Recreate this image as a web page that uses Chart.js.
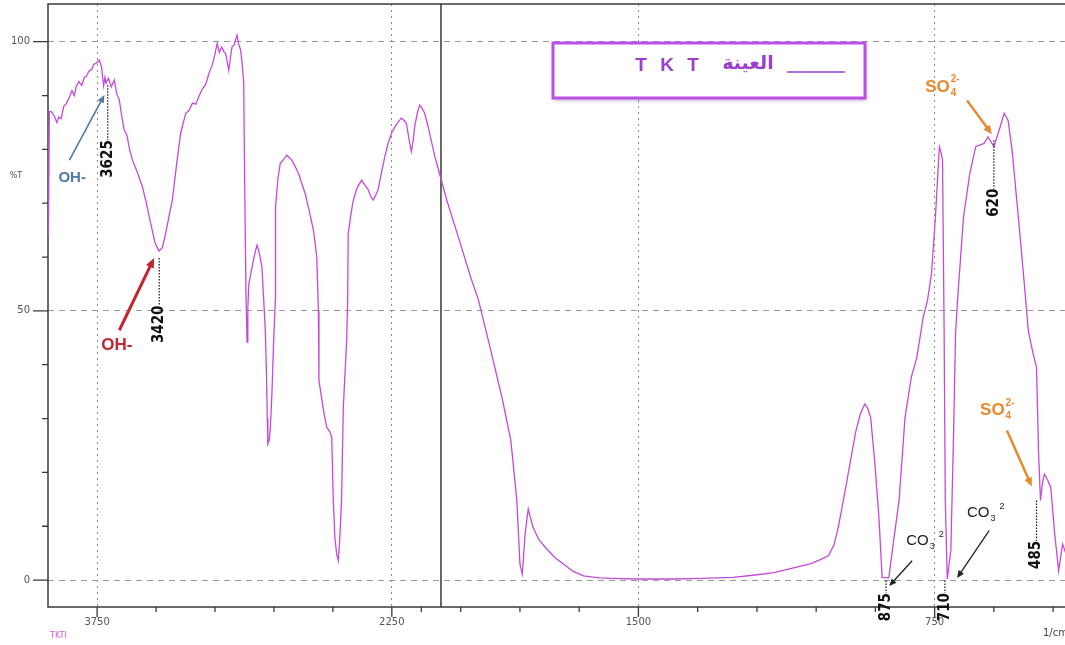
<!DOCTYPE html>
<html>
<head>
<meta charset="utf-8">
<script src="https://cdn.jsdelivr.net/npm/chart.js@4.4.1/dist/chart.umd.min.js"></script>
<style>
  html, body { margin: 0; padding: 0; background: #fff; overflow: hidden; }
  #wrap { position: relative; width: 1065px; height: 645px; }
</style>
</head>
<body>
<div id="wrap"><canvas id="irChart"></canvas></div>
<script>
// IR spectrum of sample TKT: wavenumber (1/cm) and %T
const wavenumbers = [
  3998, 3993, 3983, 3968, 3955, 3945, 3933, 3920, 3907, 3893, 3878, 3866, 3857, 3843, 3828, 3815,
  3806, 3792, 3778, 3767, 3755, 3739, 3727, 3717, 3710, 3705, 3692, 3678, 3663, 3650, 3637, 3624,
  3612, 3598, 3585, 3570, 3545, 3519, 3498, 3477, 3455, 3435, 3418, 3401, 3384, 3367, 3345, 3325,
  3299, 3282, 3265, 3248, 3232, 3215, 3198, 3181, 3165, 3152, 3139, 3128, 3116, 3106, 3096, 3088,
  3080, 3071, 3063, 3052, 3045, 3038, 3030, 3020, 3012, 3004, 2999, 2992, 2987, 2983, 2978, 2960,
  2945, 2936, 2925, 2911, 2894, 2888, 2884, 2881, 2874, 2868, 2860, 2852, 2843, 2842, 2830, 2818,
  2800, 2784, 2770, 2759, 2742, 2725, 2708, 2691, 2670, 2649, 2632, 2624, 2621, 2600, 2582, 2565,
  2556, 2548, 2540, 2531, 2522, 2514, 2506, 2497, 2480, 2475, 2472, 2458, 2446, 2425, 2404, 2388,
  2370, 2357, 2345, 2332, 2320, 2302, 2286, 2270, 2252, 2228, 2202, 2188, 2176, 2163, 2151, 2142,
  2134, 2120, 2108, 2096, 2083, 2066, 2050, 2030, 2005,
  1985, 1956, 1925, 1905, 1874, 1844, 1823, 1808, 1800, 1794, 1787, 1779, 1767, 1752, 1736, 1712,
  1690, 1665, 1639, 1600, 1567, 1500, 1414, 1340, 1260, 1210, 1157, 1110, 1065, 1040, 1019, 1005,
  994, 978, 963, 950, 938, 927, 920, 912, 902, 891, 883, 866, 856, 848, 840, 825,
  809, 795, 779, 768, 758, 748, 738, 733, 730, 726, 723, 718, 709, 702, 697, 692,
  677, 661, 646, 625, 615, 608, 600, 592, 584, 574, 564, 554, 538, 523, 513, 502,
  492, 487, 482, 477, 472, 464, 456, 446, 436, 426, 418
];
const transmittance = [
  64.0, 87.0, 87.0, 86.2, 85.0, 86.0, 85.7, 88.0, 88.5, 89.5, 90.9, 90.0, 91.6, 92.6, 91.9, 93.4,
  93.5, 94.5, 94.8, 95.8, 96.0, 96.6, 95.2, 91.8, 93.4, 92.3, 93.2, 91.6, 92.9, 90.3, 89.2, 86.0,
  83.6, 82.6, 80.0, 78.0, 75.7, 73.0, 69.8, 66.2, 62.6, 61.1, 61.8, 64.4, 67.6, 70.6, 77.4, 83.0,
  86.7, 87.2, 88.6, 88.4, 89.8, 91.2, 92.0, 94.1, 95.6, 97.4, 99.7, 98.0, 99.0, 98.2, 97.8, 96.3,
  94.7, 97.2, 99.1, 99.4, 100.4, 101.2, 99.6, 98.5, 96.0, 92.3, 73.7, 52.0, 44.2, 50.5, 55.0, 58.4,
  61.0, 62.2, 60.8, 58.1, 46.4, 38.3, 30.0, 25.3, 26.0, 28.4, 35.0, 43.9, 52.0, 69.3, 74.5, 77.4,
  78.2, 78.9, 78.4, 78.0, 76.8, 75.5, 73.6, 71.8, 68.5, 65.0, 60.0, 50.1, 37.1, 32.0, 28.4, 27.5,
  26.5, 14.8, 8.0, 4.8, 3.6, 8.5, 14.8, 32.1, 44.5, 52.0, 64.4, 68.0, 70.6, 73.0, 74.3, 73.4,
  72.5, 71.2, 70.6, 71.5, 72.5, 75.8, 78.6, 81.0, 83.0, 84.6, 85.8, 85.4, 84.8, 82.0, 79.6, 81.5,
  84.2, 86.8, 88.2, 87.6, 86.7, 84.3, 81.7, 78.5, 75.2,
  70.5, 63.7, 56.3, 52.0, 42.7, 33.4, 25.9, 14.8, 3.0, 1.1, 8.6, 13.2, 9.8, 7.5, 6.1, 4.2,
  3.0, 1.6, 0.8, 0.4, 0.3, 0.2, 0.2, 0.3, 0.5, 0.9, 1.4, 2.2, 3.0, 3.8, 4.5, 6.5,
  9.8, 16.0, 22.2, 27.5, 30.9, 32.7, 32.0, 30.2, 22.2, 11.6, 0.5, 0.4, 6.1, 10.5, 14.8, 30.2,
  37.7, 41.4, 48.8, 52.0, 56.9, 67.4, 80.5, 79.2, 78.0, 46.4, 14.8, 0.2, 5.5, 27.2, 45.8, 52.0,
  67.4, 75.5, 80.5, 81.1, 82.3, 81.5, 80.5, 82.3, 84.2, 86.7, 85.4, 79.9, 67.4, 55.1, 46.4, 42.5,
  39.5, 24.0, 14.8, 18.0, 19.7, 18.6, 17.2, 8.6, 1.7, 6.7, 5.0
];

const majorTicks = [3750, 2250, 1500, 750];
const minorTicks = [3450, 3150, 2850, 2550, 2100, 1950, 1800, 1650, 1350, 1200, 1050, 900, 600, 450];
const yLabelTicks = [0, 50, 100];
const yMinorTicks = [10, 20, 30, 40, 60, 70, 80, 90];

// peak marks: dotted line from top to bottom (%T) with the printed label
const peakMarks = [
  { w: 3696, top: 91.9, bottom: 81.7, label: '3625' },
  { w: 3434, top: 59.8, bottom: 51.0, label: '3420' },
  { w: 600, top: 81.7, bottom: 72.7, label: '620' },
  { w: 492, top: 14.8, bottom: 7.3, label: '485' },
  { w: 873, top: -0.1, bottom: -2.4, label: '875' },
  { w: 724, top: -0.1, bottom: -2.4, label: '710' }
];
// ion labels and their arrows
const ionLabels = [
  { w: 3877, t: 74.8, main: 'OH-', color: '#4f79ad', font: 'bold 15px "Liberation Sans"', align: 'center' },
  { w: 3650, t: 43.6, main: 'OH-', color: '#c2262e', font: 'bold 17px "Liberation Sans"', align: 'center' },
  { w: 774, t: 91.6, main: 'SO', sub: '4', sup: '2-', stack: true, color: '#e8892d', font: 'bold 17px "Liberation Sans"' },
  { w: 635, t: 31.5, main: 'SO', sub: '4', sup: '2-', stack: true, color: '#e8892d', font: 'bold 17px "Liberation Sans"' },
  { w: 822, t: 7.3, main: 'CO', sub: '3', sup: '2', color: '#222', font: '15px "Liberation Sans"' },
  { w: 668, t: 12.5, main: 'CO', sub: '3', sup: '2', color: '#222', font: '15px "Liberation Sans"' }
];
const arrows = [
  { from: [3891, 78.0], to: [3713, 90.1], color: '#4f79ad', width: 1.6 },
  { from: [3637, 46.4], to: [3460, 59.8], color: '#c2262e', width: 3 },
  { from: [668, 89.1], to: [605, 82.8], color: '#e8892d', width: 2.5 },
  { from: [567, 27.8], to: [504, 17.4], color: '#e8892d', width: 2.5 },
  { from: [807, 3.6], to: [865, -1.1], color: '#222', width: 1.3 },
  { from: [612, 9.2], to: [693, 0.4], color: '#222', width: 1.3 }
];

// the x axis is split at 2000 1/cm: the low range is drawn at double scale
const SCALE_RIGHT = 2.01;
const U_MAX = 5176;
const toU = w => w >= 2000 ? 4000 - w : 2000 + SCALE_RIGHT * (2000 - w);
const fromU = u => u <= 2000 ? 4000 - u : 2000 - (u - 2000) / SCALE_RIGHT;

const points = wavenumbers.map((w, i) => ({ x: toU(w), y: transmittance[i] }));

function drawArrow(ctx, x1, y1, x2, y2, color, width) {
  const ang = Math.atan2(y2 - y1, x2 - x1);
  const head = 6 + width * 1.5;
  ctx.save();
  ctx.strokeStyle = color;
  ctx.fillStyle = color;
  ctx.lineWidth = width;
  ctx.beginPath();
  ctx.moveTo(x1, y1);
  ctx.lineTo(x2 - Math.cos(ang) * head * 0.8, y2 - Math.sin(ang) * head * 0.8);
  ctx.stroke();
  ctx.beginPath();
  ctx.moveTo(x2, y2);
  ctx.lineTo(x2 - head * Math.cos(ang - 0.42), y2 - head * Math.sin(ang - 0.42));
  ctx.lineTo(x2 - head * Math.cos(ang + 0.42), y2 - head * Math.sin(ang + 0.42));
  ctx.closePath();
  ctx.fill();
  ctx.restore();
}

const irDecor = {
  id: 'irDecor',
  beforeDatasetsDraw(chart) {
    const { ctx, chartArea: a, scales: { x, y } } = chart;
    ctx.save();
    ctx.strokeStyle = '#3a3a3a';
    ctx.lineWidth = 1.5;
    ctx.beginPath();
    ctx.moveTo(a.right, a.top);
    ctx.lineTo(a.left, a.top);
    ctx.lineTo(a.left, a.bottom);
    ctx.lineTo(a.right, a.bottom);
    const bx = x.getPixelForValue(toU(2000));
    ctx.moveTo(bx, a.top);
    ctx.lineTo(bx, a.bottom);
    ctx.stroke();

    ctx.lineWidth = 1.3;
    ctx.beginPath();
    majorTicks.forEach(w => {
      const px = x.getPixelForValue(toU(w));
      ctx.moveTo(px, a.bottom); ctx.lineTo(px, a.bottom + 10);
    });
    minorTicks.forEach(w => {
      const px = x.getPixelForValue(toU(w));
      ctx.moveTo(px, a.bottom); ctx.lineTo(px, a.bottom + 5);
    });
    yLabelTicks.forEach(v => {
      const py = y.getPixelForValue(v);
      ctx.moveTo(a.left - 15, py); ctx.lineTo(a.left, py);
    });
    yMinorTicks.forEach(v => {
      const py = y.getPixelForValue(v);
      ctx.moveTo(a.left - 6, py); ctx.lineTo(a.left, py);
    });
    ctx.stroke();

    ctx.fillStyle = '#555';
    ctx.font = '8px "DejaVu Sans"';
    ctx.textAlign = 'center';
    ctx.textBaseline = 'middle';
    ctx.fillText('%T', 16, y.getPixelForValue(75));
    ctx.fillStyle = '#d45ad8';
    ctx.textAlign = 'left';
    ctx.fillText('TKTI', 50, 636);
    ctx.fillStyle = '#444';
    ctx.font = '10px "DejaVu Sans"';
    ctx.fillText('1/cm', 1043, 633);
    ctx.restore();
  },
  afterDatasetsDraw(chart) {
    const { ctx, scales: { x, y } } = chart;
    const px = w => x.getPixelForValue(toU(w));
    const py = t => y.getPixelForValue(t);

    // peak position marks
    peakMarks.forEach(m => {
      const xx = px(m.w);
      ctx.save();
      ctx.strokeStyle = '#111';
      ctx.lineWidth = 1.2;
      ctx.setLineDash([1.5, 1.5]);
      ctx.beginPath();
      ctx.moveTo(xx, py(m.top));
      ctx.lineTo(xx, py(m.bottom));
      ctx.stroke();
      ctx.setLineDash([]);
      ctx.translate(xx, py(m.bottom));
      ctx.rotate(-Math.PI / 2);
      ctx.fillStyle = '#111';
      ctx.font = 'bold 15px "DejaVu Sans Condensed", "Liberation Sans Narrow", sans-serif';
      ctx.textAlign = 'right';
      ctx.textBaseline = 'middle';
      ctx.fillText(m.label, 0, 0);
      ctx.restore();
    });

    arrows.forEach(ar => {
      drawArrow(ctx, px(ar.from[0]), py(ar.from[1]), px(ar.to[0]), py(ar.to[1]), ar.color, ar.width);
    });

    ionLabels.forEach(l => {
      ctx.save();
      ctx.fillStyle = l.color;
      ctx.font = l.font;
      ctx.textBaseline = 'middle';
      ctx.textAlign = l.align || 'left';
      const xx = px(l.w), yy = py(l.t);
      ctx.fillText(l.main, xx, yy);
      if (l.sub) {
        const mw = ctx.measureText(l.main).width;
        const size = parseInt(l.font.match(/(\d+)px/)[1], 10);
        const small = l.font.replace(/\d+px/, Math.round(size * 0.6) + 'px');
        ctx.font = small;
        ctx.fillText(l.sub, xx + mw + 1, yy + size * 0.35);
        const sw = ctx.measureText(l.sub).width;
        const supX = l.stack ? xx + mw + 1 : xx + mw + sw + 5;
        ctx.fillText(l.sup, supX, yy - size * 0.45);
      }
      ctx.restore();
    });

    // legend box
    ctx.save();
    ctx.shadowColor = 'rgba(60, 0, 80, 0.35)';
    ctx.shadowBlur = 4;
    ctx.shadowOffsetX = 1;
    ctx.shadowOffsetY = 2;
    ctx.fillStyle = '#fff';
    ctx.fillRect(553, 43, 312, 55);
    ctx.shadowColor = 'transparent';
    ctx.strokeStyle = '#b94fe8';
    ctx.lineWidth = 3;
    ctx.strokeRect(553, 43, 312, 55);
    ctx.fillStyle = '#9b3fd0';
    ctx.textBaseline = 'middle';
    ctx.textAlign = 'center';
    ctx.font = 'bold 19px "Liberation Sans"';
    ctx.letterSpacing = '4px';
    ctx.fillText('T K T', 669, 66);
    ctx.letterSpacing = '0px';
    ctx.font = 'bold 19px "DejaVu Sans"';
    ctx.fillText('العينة', 748, 64);
    ctx.strokeStyle = '#9b3fd0';
    ctx.lineWidth = 1.5;
    ctx.beginPath();
    ctx.moveTo(787, 72);
    ctx.lineTo(845, 72);
    ctx.stroke();
    ctx.restore();
  }
};

const ctx = document.getElementById('irChart');
new Chart(ctx, {
  type: 'line',
  data: {
    datasets: [{
      label: 'TKT',
      data: points,
      borderColor: '#c44bd8',
      borderWidth: 1.3,
      pointRadius: 0,
      tension: 0,
      fill: false
    }]
  },
  options: {
    responsive: true,
    maintainAspectRatio: false,
    animation: false,
    layout: { autoPadding: false, padding: { top: 4, right: 0, left: 0, bottom: 0 } },
    plugins: {
      legend: { display: false },
      tooltip: { enabled: false }
    },
    scales: {
      x: {
        type: 'linear',
        min: 0,
        max: U_MAX,
        afterBuildTicks: s => { s.ticks = majorTicks.map(w => ({ value: toU(w) })); },
        afterFit: s => { s.height = 38; s.paddingLeft = 0; s.paddingRight = 0; },
        ticks: {
          callback: v => Math.round(fromU(v)),
          padding: 9,
          color: '#555',
          font: { family: 'DejaVu Sans', size: 10 },
          maxRotation: 0,
          autoSkip: false
        },
        grid: { color: '#8c8c8c', lineWidth: 1, drawTicks: false },
        border: { display: false, dash: [2, 4] }
      },
      y: {
        min: -5,
        max: 107,
        afterBuildTicks: s => { s.ticks = yLabelTicks.map(v => ({ value: v })); },
        afterFit: s => { s.width = 48; s.paddingTop = 0; s.paddingBottom = 0; },
        ticks: {
          padding: 18,
          color: '#555',
          font: { family: 'DejaVu Sans', size: 10 }
        },
        grid: { color: '#9a9a9a', lineWidth: 1, drawTicks: false },
        border: { display: false, dash: [6, 5] }
      }
    }
  },
  plugins: [irDecor]
});
</script>
</body>
</html>
